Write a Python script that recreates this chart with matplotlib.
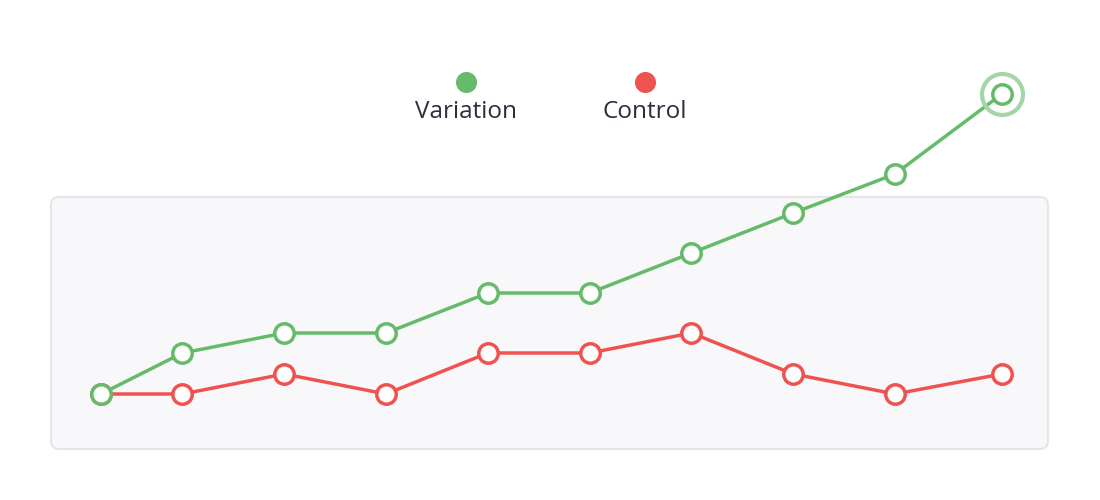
import matplotlib.pyplot as plt
from matplotlib.patches import FancyBboxPatch
from matplotlib.transforms import IdentityTransform


# ─────────────────────────────────────────
#  DATA
# ─────────────────────────────────────────
days      = [0, 0.8, 1.8, 2.8, 3.8, 4.8, 5.8, 6.8, 7.8, 8.85]
variation = [0, 2.05, 3.05, 3.05, 5.05, 5.05, 7.05, 9.05, 11.0, 15.0]
control   = [0, 0, 1.0, 0, 2.05, 2.05, 3.05, 1.0, 0, 1.0]
labels    = ["Variation", "Control"]

GREEN      = "#66bb6a"
RED        = "#ef5350"
HALO       = "#a5d6a7"
TEXT_COLOR = "#2b2e3b"

plt.rcParams['font.family'] = ['Open Sans', 'DejaVu Sans']

fig = plt.figure(figsize=(11, 5), dpi=100)
ax = fig.add_axes([0, 0, 1, 1])
ax.set_xlim(-0.992, 9.813)
ax.set_ylim(-5.3, 19.7)
ax.axis("off")

# background panel (pixel coords)
panel = FancyBboxPatch((51, 51), 997, 252,
                       boxstyle="round,pad=0,rounding_size=8",
                       transform=IdentityTransform(),
                       facecolor="#f8f8fa", edgecolor="#e5e5ea",
                       linewidth=1.5, zorder=0)
ax.add_patch(panel)

style = dict(linewidth=2.5, marker="o", markersize=14,
             markerfacecolor="white", markeredgewidth=2.5)
ax.plot(days, control, color=RED, markeredgecolor=RED, zorder=2, **style)
ax.plot(days, variation, color=GREEN, markeredgecolor=GREEN, zorder=3, **style)

# halo on the latest variation point
ax.plot(days[-1], variation[-1], marker="o", markersize=29.5,
        markerfacecolor="none", markeredgecolor=HALO,
        markeredgewidth=3, zorder=4)

# legend: dot above label
for xf, name, color in [(0.4236, labels[0], GREEN), (0.5864, labels[1], RED)]:
    ax.scatter([xf], [1 - 82 / 500], s=200, color=color,
               transform=fig.transFigure, zorder=5, clip_on=False)
    fig.text(xf, 1 - 112 / 500, name, ha="center", va="center",
             fontsize=17.5, color=TEXT_COLOR)

fig.savefig("out.png", dpi=100)
